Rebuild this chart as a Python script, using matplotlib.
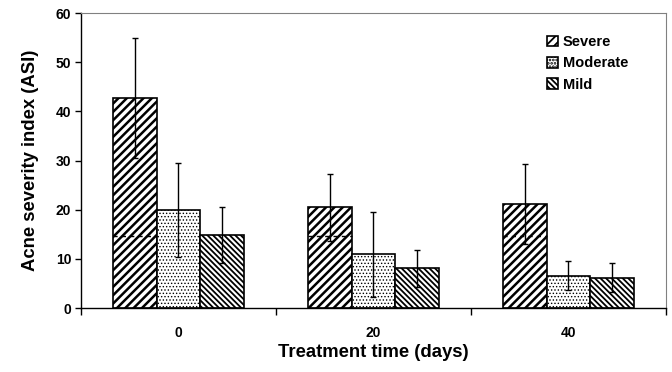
import matplotlib
matplotlib.use("Agg")
import matplotlib.pyplot as plt
import numpy as np

plt.rcParams["font.family"] = ["Liberation Sans", "DejaVu Sans"]
plt.rcParams["font.weight"] = "bold"
plt.rcParams["hatch.linewidth"] = 1.8

days = ["0", "20", "40"]
series = ["Severe", "Moderate", "Mild"]
severe = [42.7, 20.5, 21.1]
severe_err = [12.2, 6.8, 8.1]
moderate = [19.9, 10.9, 6.6]
moderate_err = [9.6, 8.6, 3.0]
mild = [14.8, 8.1, 6.2]
mild_err = [5.7, 3.8, 2.9]
hatches = ["////", ".....", "\\\\\\\\\\\\"]
hatch_lw = [1.8, 0.6, 1.3]
# faint dashed line seen inside the severe bars
severe_dash_level = 14.6

values = [severe, moderate, mild]
errors = [severe_err, moderate_err, mild_err]

fig = plt.figure(figsize=(6.72, 3.72), dpi=100)
ax = fig.add_axes([0.1205, 0.172, 0.8705, 0.793])

x = np.arange(len(days))
w = 0.223
for k, (name, vals, errs, h) in enumerate(zip(series, values, errors, hatches)):
    pos = x + (k - 1) * w
    plt.rcParams["hatch.linewidth"] = hatch_lw[k]
    bars = ax.bar(pos, vals, width=w, facecolor="white", edgecolor="black",
                  linewidth=1.2, hatch=h, label=name, zorder=2)
    for b in bars:
        try:
            b.set_hatch_linewidth(hatch_lw[k])
        except AttributeError:
            pass
    ax.errorbar(pos, vals, yerr=errs, fmt="none", ecolor="black",
                elinewidth=1.0, capsize=2, capthick=1.0, zorder=3)
    if k == 0:
        ax.hlines([severe_dash_level] * len(pos), pos - w / 2, pos + w / 2,
                  colors="black", linestyles=(0, (3, 3)), linewidth=1.0, zorder=2.5)

ax.set_xlim(-0.5, len(days) - 0.5)
ax.set_ylim(0, 60)
ax.set_yticks(np.arange(0, 61, 10))
ax.set_xticks(x)
ax.set_xticklabels(days)
ax.set_xticks(np.arange(-0.5, len(days), 1.0), minor=True)
ax.tick_params(axis="x", which="major", length=0, pad=13, labelsize=10)
ax.tick_params(axis="x", which="minor", length=5, width=1, direction="out")
ax.tick_params(axis="y", length=4, width=1, direction="out", labelsize=10, pad=3)

for s in ["top", "right"]:
    ax.spines[s].set_color("#808080")
for s in ["left", "bottom"]:
    ax.spines[s].set_color("black")
    ax.spines[s].set_linewidth(1.0)

ax.set_ylabel("Acne severity index (ASI)", fontsize=13.3, fontweight="bold", labelpad=12)
ax.set_xlabel("Treatment time (days)", fontsize=13.3, fontweight="bold", labelpad=3)

leg = ax.legend(loc="upper right", bbox_to_anchor=(0.945, 0.945), frameon=False,
                fontsize=10.5, handlelength=0.75, handleheight=0.75,
                handletextpad=0.3, labelspacing=0.5, borderaxespad=0)

fig.savefig("out.png", dpi=100)
